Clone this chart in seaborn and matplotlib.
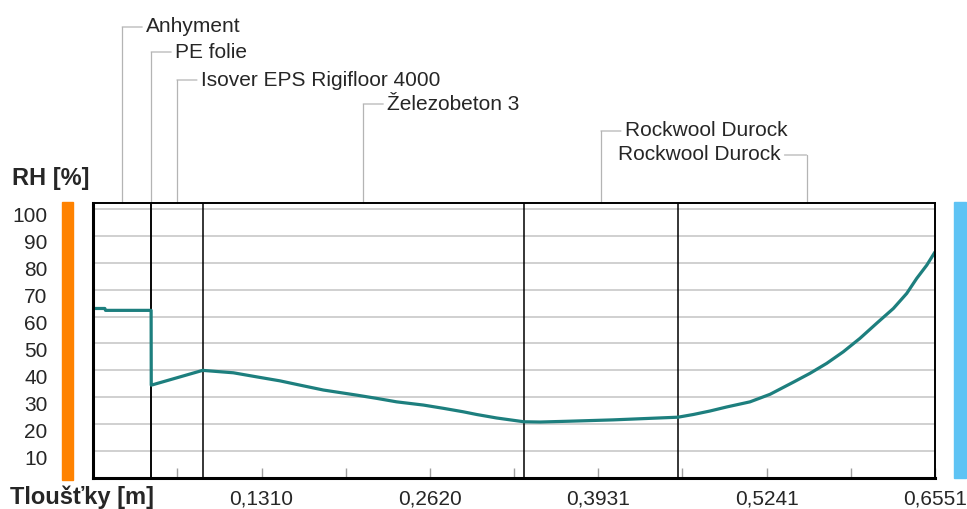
import matplotlib
matplotlib.use("Agg")
import matplotlib.pyplot as plt
import matplotlib.transforms as mtransforms
from matplotlib.patches import Rectangle
import seaborn as sns
import pandas as pd

# layer names and boundaries (thickness positions in m)
layer_names = ["Anhyment", "PE folie", "Isover EPS Rigifloor 4000",
               "Železobeton 3", "Rockwool Durock", "Rockwool Durock"]
layer_edges = [0.0, 0.0450, 0.0451, 0.0851, 0.3351, 0.4551, 0.6551]

# relative humidity profile
pos = [0.0, 0.0090, 0.0095, 0.0450, 0.0451, 0.0851, 0.1090, 0.1270,
       0.1453, 0.1610, 0.1790, 0.2050, 0.2205, 0.2361, 0.2570, 0.2724,
       0.2880, 0.2984, 0.3140, 0.3351, 0.3477, 0.3700, 0.4045, 0.4551,
       0.4670, 0.4800, 0.4930, 0.5111, 0.5267, 0.5448, 0.5578, 0.5708,
       0.5837, 0.5967, 0.6097, 0.6227, 0.6331, 0.6409, 0.6487, 0.6551]
rh = [63.0, 63.0, 62.3, 62.3, 34.5, 40.0, 39.1, 37.6,
      36.1, 34.5, 32.7, 30.8, 29.6, 28.3, 27.1, 25.9,
      24.6, 23.6, 22.3, 20.9, 20.8, 21.1, 21.6, 22.6,
      23.6, 24.9, 26.4, 28.3, 31.1, 35.6, 38.9, 42.6,
      46.9, 51.9, 57.5, 63.0, 68.6, 74.2, 79.1, 84.0]

x_ticks = [0.1310, 0.2620, 0.3931, 0.5241, 0.6551]
x_tick_labels = ["0,1310", "0,2620", "0,3931", "0,5241", "0,6551"]
y_ticks = [10, 20, 30, 40, 50, 60, 70, 80, 90, 100]

df = pd.DataFrame({"pos": pos, "rh": rh})

sns.set_style("white")
plt.rcParams["font.family"] = ["Liberation Sans", "DejaVu Sans"]

W, H = 967, 509
fig = plt.figure(figsize=(W / 100, H / 100), dpi=100)
ax_l, ax_b, ax_w, ax_h = 93.3, 31, 841.7, 275
ax = fig.add_axes([ax_l / W, ax_b / H, ax_w / W, ax_h / H])

# horizontal grid
for v in y_ticks:
    ax.axhline(v, color="#c4c4c4", lw=1.1, zorder=1)

# layer boundaries
for e in layer_edges[1:-1]:
    ax.axvline(e, color="black", lw=1.1, zorder=2)

sns.lineplot(data=df, x="pos", y="rh", ax=ax, color="#1d7f7e", lw=2.3,
             sort=False, estimator=None, zorder=3)

ax.set_xlim(0, layer_edges[-1])
ax.set_ylim(0, 102.2)
ax.set_xlabel("")
ax.set_ylabel("")

ax.set_xticks(x_ticks)
ax.set_xticklabels(x_tick_labels, fontsize=15)
ax.set_xticks([x_ticks[0] / 2 * k for k in range(1, 10, 2)], minor=True)
ax.tick_params(axis="x", which="both", direction="in", length=7,
               width=1, color="#a0a0a0", pad=8, bottom=True)
ax.set_yticks(y_ticks)
ax.set_yticklabels([str(v) for v in y_ticks], fontsize=15)
ax.tick_params(axis="y", length=0, pad=33)
shift = mtransforms.ScaledTranslation(0, -6 / 100, fig.dpi_scale_trans)
for lbl in ax.get_yticklabels():
    lbl.set_transform(lbl.get_transform() + shift)

for side in ["left", "bottom"]:
    ax.spines[side].set_linewidth(2.2)
for side in ["top", "right"]:
    ax.spines[side].set_linewidth(1.4)
for s in ax.spines.values():
    s.set_color("black")
    s.set_zorder(4)

# layer labels with leader lines above the plot
trans = mtransforms.blended_transform_factory(ax.transData, ax.transAxes)
heights = [176, 151, 123, 99, 72, 48]
lead_col = "#b4b4b4"
for i, name in enumerate(layer_names):
    mid = (layer_edges[i] + layer_edges[i + 1]) / 2
    yy = 1 + heights[i] / ax_h
    ax.plot([mid, mid], [1, yy], transform=trans, color=lead_col, lw=0.9,
            clip_on=False)
    d = -22 if i == len(layer_names) - 1 else 20
    ax.annotate("", xy=(mid, yy), xycoords=trans, xytext=(d, 0),
                textcoords="offset pixels",
                arrowprops=dict(arrowstyle="-", color=lead_col, lw=0.9,
                                shrinkA=0, shrinkB=0))
    ax.annotate(name, xy=(mid, yy), xycoords=trans,
                xytext=(d + (4 if d > 0 else -4), 0),
                textcoords="offset pixels", va="center",
                ha="left" if d > 0 else "right", fontsize=15)

# interior / exterior colour bars
fig.add_artist(Rectangle((62 / W, 1 - 480 / H), 11 / W, 278 / H,
                         transform=fig.transFigure, color="#ff8200"))
fig.add_artist(Rectangle((954 / W, 1 - 478 / H), 12 / W, 276 / H,
                         transform=fig.transFigure, color="#5ec3f4"))

fig.text(12 / W, 1 - 178 / H, "RH [%]", fontsize=17, fontweight="bold",
         va="center", ha="left")
fig.text(10 / W, 1 - 497 / H, "Tloušťky [m]", fontsize=17,
         fontweight="bold", va="center", ha="left")

fig.savefig("out.png", dpi=100)
